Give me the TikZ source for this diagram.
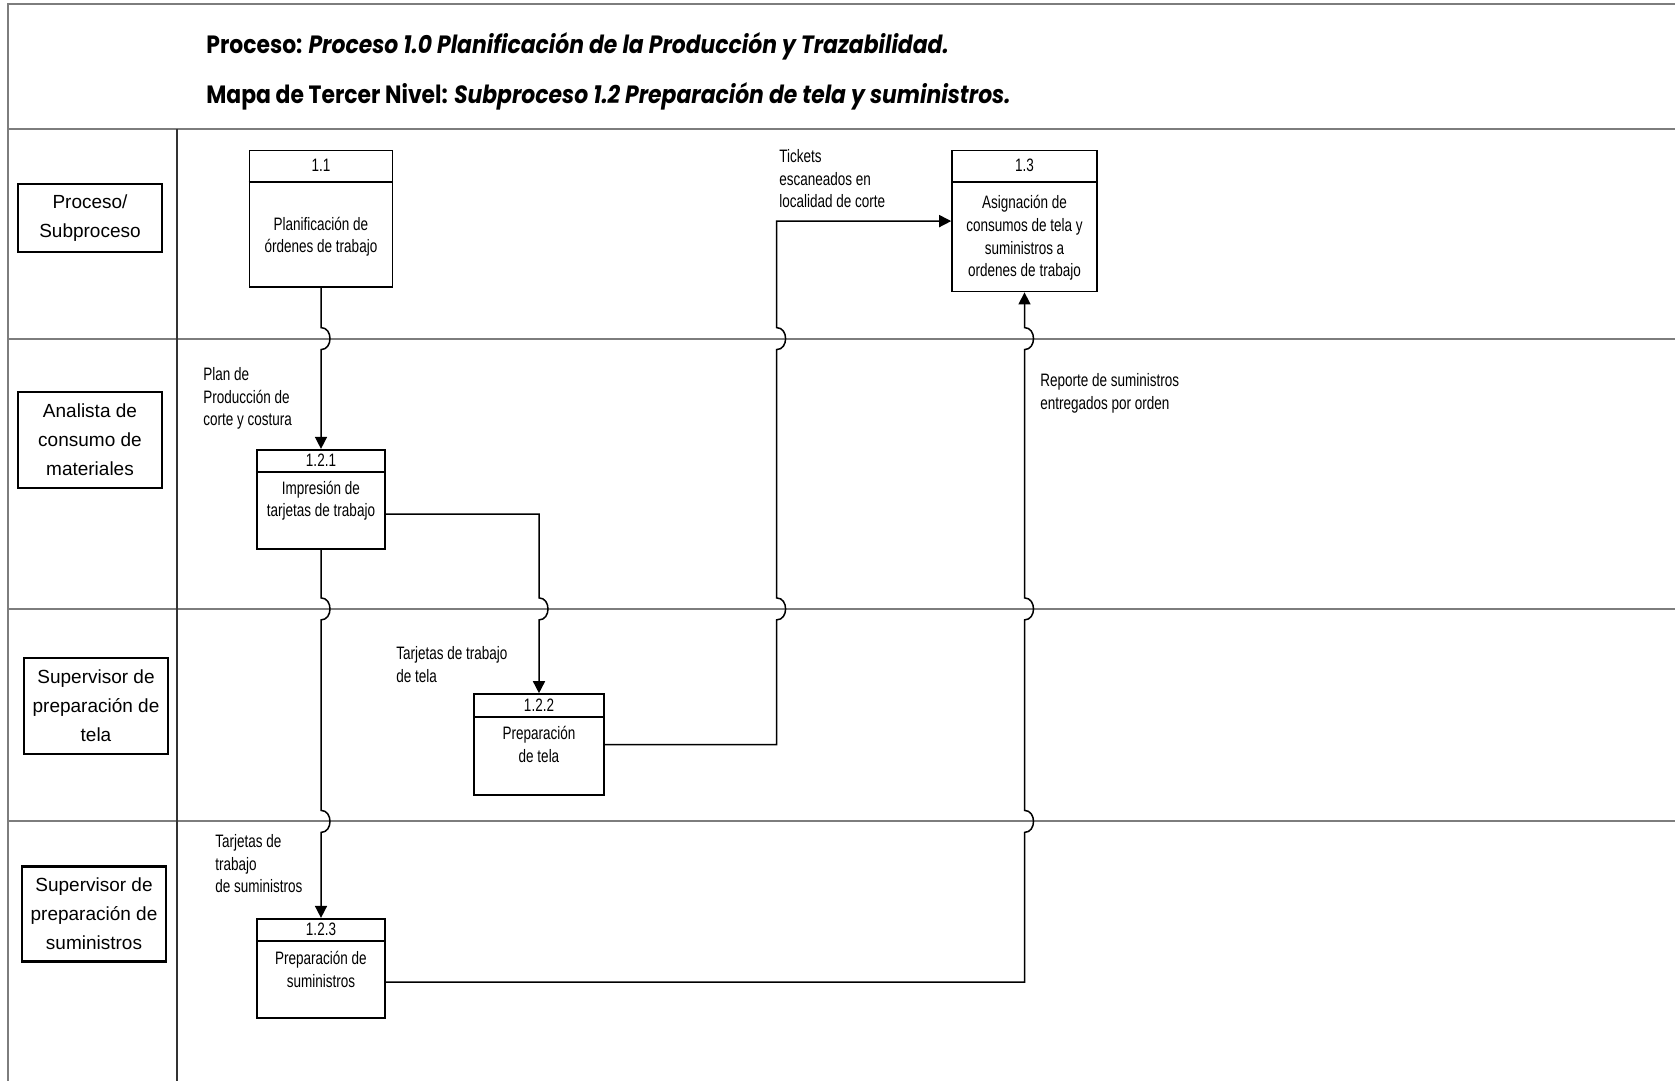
\documentclass[tikz,border=0pt]{standalone}
\usepackage{fontspec}
\usetikzlibrary{calc,arrows.meta}
\setmainfont{Liberation Sans}
\newfontfamily\lblfont[FakeStretch=0.75]{Liberation Sans}
\newfontfamily\titlefont[FakeStretch=0.875]{Poppins}
\definecolor{rulegray}{RGB}{125,125,125}

\begin{document}
\begin{tikzpicture}[x=0.5pt,y=-0.5pt,
  rulel/.style={draw=rulegray, line width=1pt},
  lanebox/.style={draw, line width=1.2pt, align=center, minimum width=72pt,
    font=\fontsize{9.5}{14.5}\selectfont, inner sep=0pt},
  procbox/.style={draw, line width=0.8pt, inner sep=0pt},
  divider/.style={line width=0.8pt},
  boxtxt/.style={align=center, font=\lblfont\fontsize{9}{11.3}\selectfont, inner sep=0pt},
  flowlbl/.style={align=left, anchor=north west, font=\lblfont\fontsize{9}{11.3}\selectfont, inner sep=0pt},
  titletxt/.style={anchor=west, inner sep=0pt, font=\titlefont\fontsize{12.5}{15}\selectfont\bfseries},
  flow/.style={draw, line width=0.75pt, -{Triangle[length=6pt,width=6pt]}},
  hopd/.style={insert path={-- ($(#1)+(0,-11)$) .. controls ($(#1)+(12,-11)$) and ($(#1)+(12,11)$) .. ($(#1)+(0,11)$)}},
  hopu/.style={insert path={-- ($(#1)+(0,11)$) .. controls ($(#1)+(12,11)$) and ($(#1)+(12,-11)$) .. ($(#1)+(0,-11)$)}},
]
\useasboundingbox (0,0) rectangle (1675,1081);

% frame, header and swimlane rules
\coordinate (L1) at (0,338.6);
\coordinate (L2) at (0,608.9);
\coordinate (L3) at (0,821.4);
\draw[rulel] (1675,4) -- (8,4) -- (8,1081);
\draw[rulel] (8,129) -- (1675,129);
\draw[rulel] (8,338.6) -- (1675,338.6);
\draw[rulel] (8,608.9) -- (1675,608.9);
\draw[rulel] (8,821.4) -- (1675,821.4);
\draw[line width=0.8pt, draw=black!80] (177,129) -- (177,1081);

% title
\node[titletxt] (title1) at (206,46) {Proceso: \itshape Proceso 1.0 Planificación de la Producción y Trazabilidad.};
\node[titletxt] (title2) at (206,96) {Mapa de Tercer Nivel: \itshape Subproceso 1.2 Preparación de tela y suministros.};

% lane labels
\node[lanebox, minimum height=34pt] (laneA) at (90,218) {Proceso/\\Subproceso};
\node[lanebox, minimum height=48pt] (laneB) at (90,440) {Analista de\\consumo de\\materiales};
\node[lanebox, minimum height=48pt] (laneC) at (96,706) {Supervisor de\\preparación de\\tela};
\node[lanebox, minimum height=47.5pt] (laneD) at (94,914) {Supervisor de\\preparación de\\suministros};

% process 1.1
\node[procbox, minimum width=71.5pt, minimum height=68.2pt] (n11) at (321,218.8) {};
\draw[divider] ($(n11.north west)+(0,32)$) -- ($(n11.north east)+(0,32)$);
\node[boxtxt] (h11) at ($(n11.north)+(0,16)$) {1.1};
\node[boxtxt] (t11) at ($(n11.center)+(0,18)$) {Planificación de\\órdenes de trabajo};

% process 1.3
\node[procbox, minimum width=72.5pt, minimum height=70.5pt] (n13) at (1024.5,221.1) {};
\draw[divider] ($(n13.north west)+(0,32)$) -- ($(n13.north east)+(0,32)$);
\node[boxtxt] (h13) at ($(n13.north)+(0,16)$) {1.3};
\node[boxtxt] (t13) at ($(n13.center)+(0,17)$) {Asignación de\\consumos de tela y\\suministros a\\ordenes de trabajo};

% process 1.2.1
\node[procbox, minimum width=64.25pt, minimum height=49.65pt] (n121) at (321,499.35) {};
\draw[divider] ($(n121.north west)+(0,23.3)$) -- ($(n121.north east)+(0,23.3)$);
\node[boxtxt] (h121) at ($(n121.north)+(0,11.7)$) {1.2.1};
\node[boxtxt] (t121) at ($(n121.center)+(0,1.5)$) {Impresión de\\tarjetas de trabajo};

% process 1.2.2
\node[procbox, minimum width=64.75pt, minimum height=50.5pt] (n122) at (539,744.5) {};
\draw[divider] ($(n122.north west)+(0,24)$) -- ($(n122.north east)+(0,24)$);
\node[boxtxt] (h122) at ($(n122.north)+(0,12)$) {1.2.2};
\node[boxtxt] (t122) at (n122.center) {Preparación\\de tela};

% process 1.2.3
\node[procbox, minimum width=64.25pt, minimum height=49.65pt] (n123) at (321,968.35) {};
\draw[divider] ($(n123.north west)+(0,23.3)$) -- ($(n123.north east)+(0,23.3)$);
\node[boxtxt] (h123) at ($(n123.north)+(0,11.7)$) {1.2.3};
\node[boxtxt] (t123) at ($(n123.center)+(0,1)$) {Preparación de\\suministros};

% crossing points of the flows with the lane rules
\coordinate (vx) at (776.6,0);
\coordinate (cA) at (n11.south |- L1);
\coordinate (cB) at (n121.south |- L2);
\coordinate (cC) at (n121.south |- L3);
\coordinate (cD) at (n122.north |- L2);
\coordinate (cE) at (vx |- L2);
\coordinate (cF) at (vx |- L1);
\coordinate (cG) at (n13.south |- L3);
\coordinate (cH) at (n13.south |- L2);
\coordinate (cI) at (n13.south |- L1);

% flow start points and corners
\coordinate (s121) at ($(n121.north east)+(0,65.3)$);
\coordinate (k1) at (s121 -| n122.north);
\coordinate (k2) at (n122.east -| vx);
\coordinate (k3) at (vx |- n13.west);
\coordinate (s123) at ($(n123.north east)+(0,64.3)$);
\coordinate (k4) at (s123 -| n13.south);

% flows
\draw[flow] (n11.south) [hopd=cA] -- (n121.north);
\draw[flow] (n121.south) [hopd=cB] [hopd=cC] -- (n123.north);
\draw[flow] (s121) -- (k1) [hopd=cD] -- (n122.north);
\draw[flow] (n122.east) -- (k2) [hopu=cE] [hopu=cF] -- (k3) -- (n13.west);
\draw[flow] (s123) -- (k4) [hopu=cG] [hopu=cH] [hopu=cI] -- (n13.south);

% flow labels
\node[flowlbl] (f1) at (203,367) {Plan de\\Producción de\\corte y costura};
\node[flowlbl] (f2) at (396,646) {Tarjetas de trabajo\\de tela};
\node[flowlbl] (f3) at (215,834) {Tarjetas de\\trabajo\\de suministros};
\node[flowlbl] (f4) at (779,149) {Tickets\\escaneados en\\localidad de corte};
\node[flowlbl] (f5) at (1040,373) {Reporte de suministros\\entregados por orden};
\end{tikzpicture}
\end{document}
